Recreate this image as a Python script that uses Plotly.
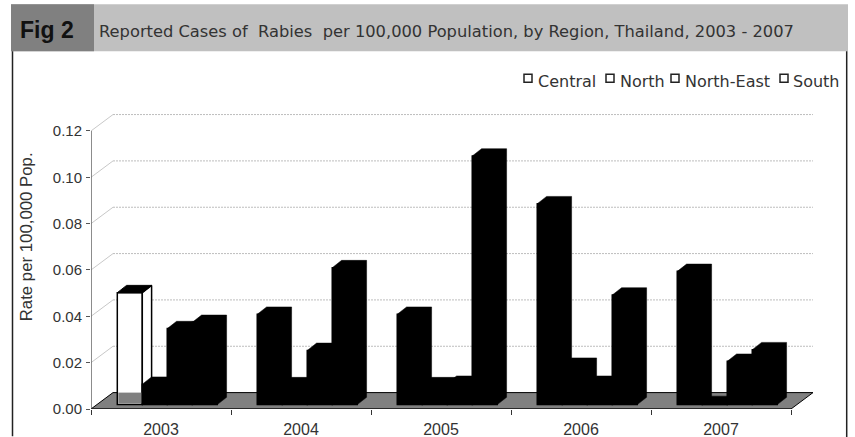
import plotly.graph_objects as go

years = ["2003", "2004", "2005", "2006", "2007"]
central = [0.0483, 0.0390, 0.0390, 0.0867, 0.0575]
north = [0.0088, 0.0086, 0.0086, 0.0170, 0.0005]
north_east = [0.0328, 0.0234, 0.0092, 0.0092, 0.0187]
south = [0.0355, 0.0591, 0.1073, 0.0473, 0.0237]
y_ticks = [0.00, 0.02, 0.04, 0.06, 0.08, 0.10, 0.12]
y_tick_labels = ["0.00", "0.02", "0.04", "0.06", "0.08", "0.10", "0.12"]
series_names = ["Central", "North", "North-East", "South"]
title_text = "Reported Cases of  Rabies  per 100,000 Population, by Region, Thailand, 2003 - 2007"
y_title = "Rate per 100,000 Pop."

W, H = 855, 437
L, R, T, B = 91, 813, 113.7, 408.7
PX_X = 140.0
PX_Y = 2317.0
xmax = (R - L) / PX_X
ymax = (B - T) / PX_Y
FONT = "Liberation Sans"
WIDE = "DejaVu Sans"


def dx(p):
    return p / PX_X


def dy(p):
    return p / PX_Y


def px(x):
    return (x - L) / (R - L)


def py(y):
    return (B - y) / (B - T)


WALL_X, WALL_Y = dx(22), dy(16.4)
BASE = dy(4.4)
BAR_W = dx(25)
BAR_START = dx(26.3)
DEPTH_X, DEPTH_Y = dx(9.3), dy(7.3)

all_series = [central, north, north_east, south]
shapes = []


def paper_rect(x0, y0, x1, y1, color):
    shapes.append(dict(type="rect", xref="paper", yref="paper", layer="below",
                       x0=px(x0), x1=px(x1), y0=py(y0), y1=py(y1),
                       fillcolor=color, line=dict(width=0)))


def paper_line(x0, y0, x1, y1, color, width):
    shapes.append(dict(type="line", xref="paper", yref="paper", layer="below",
                       x0=px(x0), x1=px(x1), y0=py(y0), y1=py(y1),
                       line=dict(color=color, width=width)))


paper_rect(11, 4, 848, 51, "#c0c0c0")
paper_rect(11, 4, 94, 51, "#808080")
paper_line(12.5, 51, 12.5, 436, "#222222", 1.5)
paper_line(846.7, 51, 846.7, 437, "#222222", 1.5)

for v in y_ticks[1:]:
    shapes.append(dict(type="line", xref="x", yref="y", layer="below", x0=0, y0=v,
                       x1=WALL_X, y1=v + WALL_Y,
                       line=dict(color="#c8c8c8", width=1)))
    shapes.append(dict(type="line", xref="x", yref="y", layer="below", x0=WALL_X, y0=v + WALL_Y,
                       x1=xmax, y1=v + WALL_Y,
                       line=dict(color="#bdbdbd", width=1, dash="2px,1px")))

n = len(years)
shapes.append(dict(type="path", xref="x", yref="y", layer="below",
                   path=f"M0,0 L{WALL_X},{WALL_Y} L{xmax},{WALL_Y} L{n},0 Z",
                   fillcolor="#808080", line=dict(color="#000000", width=1)))

fig = go.Figure()

for s, (name, vals) in enumerate(zip(series_names, all_series)):
    xs = [i + BAR_START + (s + 0.5) * BAR_W for i in range(n)]
    white = [s == 0 and i == 0 for i in range(n)]
    fig.add_bar(x=xs, y=vals, base=BASE, width=BAR_W, name=name, showlegend=False,
                marker=dict(color=["#ffffff" if w else "#000000" for w in white],
                            line=dict(color="#000000", width=1.5)))

for i, v in enumerate(central):
    if i == 0:
        x0 = i + BAR_START
        x1 = x0 + BAR_W
        top = BASE + v
        fig.add_scatter(x=[x1, x1 + DEPTH_X, x1 + DEPTH_X, x1, x1],
                        y=[top, top + DEPTH_Y, BASE + DEPTH_Y, BASE, top],
                        mode="lines", fill="toself", fillcolor="#ffffff",
                        line=dict(color="#000000", width=1.5),
                        showlegend=False, hoverinfo="skip")
        fig.add_scatter(x=[x0 + dx(1), x1 - dx(1), x1 - dx(1), x0 + dx(1), x0 + dx(1)],
                        y=[BASE + dy(1), BASE + dy(1), WALL_Y, WALL_Y, BASE + dy(1)],
                        mode="lines", fill="toself", fillcolor="#808080",
                        line=dict(color="#808080", width=0),
                        showlegend=False, hoverinfo="skip")
        fig.add_scatter(x=[x0, x1, x1 + DEPTH_X, x0 + DEPTH_X, x0],
                        y=[top, top, top + DEPTH_Y, top + DEPTH_Y, top],
                        mode="lines", fill="toself", fillcolor="#000000",
                        line=dict(color="#000000", width=1),
                        showlegend=False, hoverinfo="skip")

for s, vals in enumerate(all_series):
    for i, v in enumerate(vals):
        if s == 0 and i == 0:
            continue
        x0 = i + BAR_START + s * BAR_W
        x1 = x0 + BAR_W
        top = BASE + v
        fig.add_scatter(
            x=[x0, x0, x0 + DEPTH_X, x1 + DEPTH_X, x1 + DEPTH_X, x1, x0],
            y=[BASE, top, top + DEPTH_Y, top + DEPTH_Y, BASE + DEPTH_Y, BASE, BASE],
            mode="lines", fill="toself", fillcolor="#000000",
            line=dict(color="#000000", width=0.5),
            showlegend=False, hoverinfo="skip")

fig.add_scatter(x=[0, 0], y=[0, y_ticks[-1]], mode="lines",
                line=dict(color="#666666", width=1.5), showlegend=False, hoverinfo="skip")
fig.add_scatter(x=[0, n], y=[0, 0], mode="lines",
                line=dict(color="#222222", width=1.5), showlegend=False, hoverinfo="skip")

annotations = [
    dict(text="Fig 2", xref="paper", yref="paper", x=px(18), y=py(29.5), xanchor="left",
         yanchor="middle", showarrow=False,
         font=dict(family=FONT, size=23, color="#111111", weight="bold")),
    dict(text=title_text, xref="paper", yref="paper", x=px(97), y=py(31), xanchor="left",
         yanchor="middle", showarrow=False,
         font=dict(family=WIDE, size=16.3, color="#333333")),
    dict(text=y_title, xref="paper", yref="paper", x=px(26), y=py(237), xanchor="center",
         yanchor="middle", textangle=-90, showarrow=False,
         font=dict(family=FONT, size=16.8, color="#333333")),
]

legend_sq = [528, 610, 675, 784]
legend_tx = [536, 618, 683, 791]
for name, sq, tx in zip(series_names, legend_sq, legend_tx):
    shapes.append(dict(type="rect", xref="paper", yref="paper", layer="below",
                       x0=px(sq - 4), x1=px(sq + 4), y0=py(74), y1=py(82),
                       fillcolor="#ffffff", line=dict(color="#222222", width=1.5)))
    annotations.append(dict(text=name, xref="paper", yref="paper", x=px(tx), y=py(81),
                            xanchor="left", yanchor="middle", showarrow=False,
                            font=dict(family=WIDE, size=16, color="#333333")))

fig.update_layout(
    width=W, height=H, margin=dict(l=L, r=W - R, t=T, b=H - B, pad=0, autoexpand=False),
    paper_bgcolor="#ffffff", plot_bgcolor="rgba(0,0,0,0)",
    barmode="overlay", showlegend=False, shapes=shapes, annotations=annotations,
    font=dict(family=FONT, size=15, color="#333333"),
    xaxis=dict(range=[0, xmax], tickmode="array", automargin=False,
               tickvals=[i + 0.5 for i in range(n)], ticktext=years,
               ticks="", showgrid=False, zeroline=False, showline=False,
               ticklabelstandoff=9,
               minor=dict(tickmode="array", tickvals=list(range(n + 1)), ticks="outside",
                          ticklen=5, tickcolor="#333333", tickwidth=1, showgrid=False),
               tickfont=dict(family=FONT, size=16, color="#333333")),
    yaxis=dict(range=[0, ymax], tickmode="array", tickvals=y_ticks, ticktext=y_tick_labels,
               automargin=False, ticks="outside", ticklen=4, tickcolor="#555555", tickwidth=1,
               ticklabelstandoff=1,
               showgrid=False, zeroline=False, showline=False,
               tickfont=dict(family=FONT, size=15, color="#333333")),
)

fig.write_html("out.html", config={"displayModeBar": False},
               post_script="document.body.style.margin='0';document.documentElement.style.overflow='hidden';")
